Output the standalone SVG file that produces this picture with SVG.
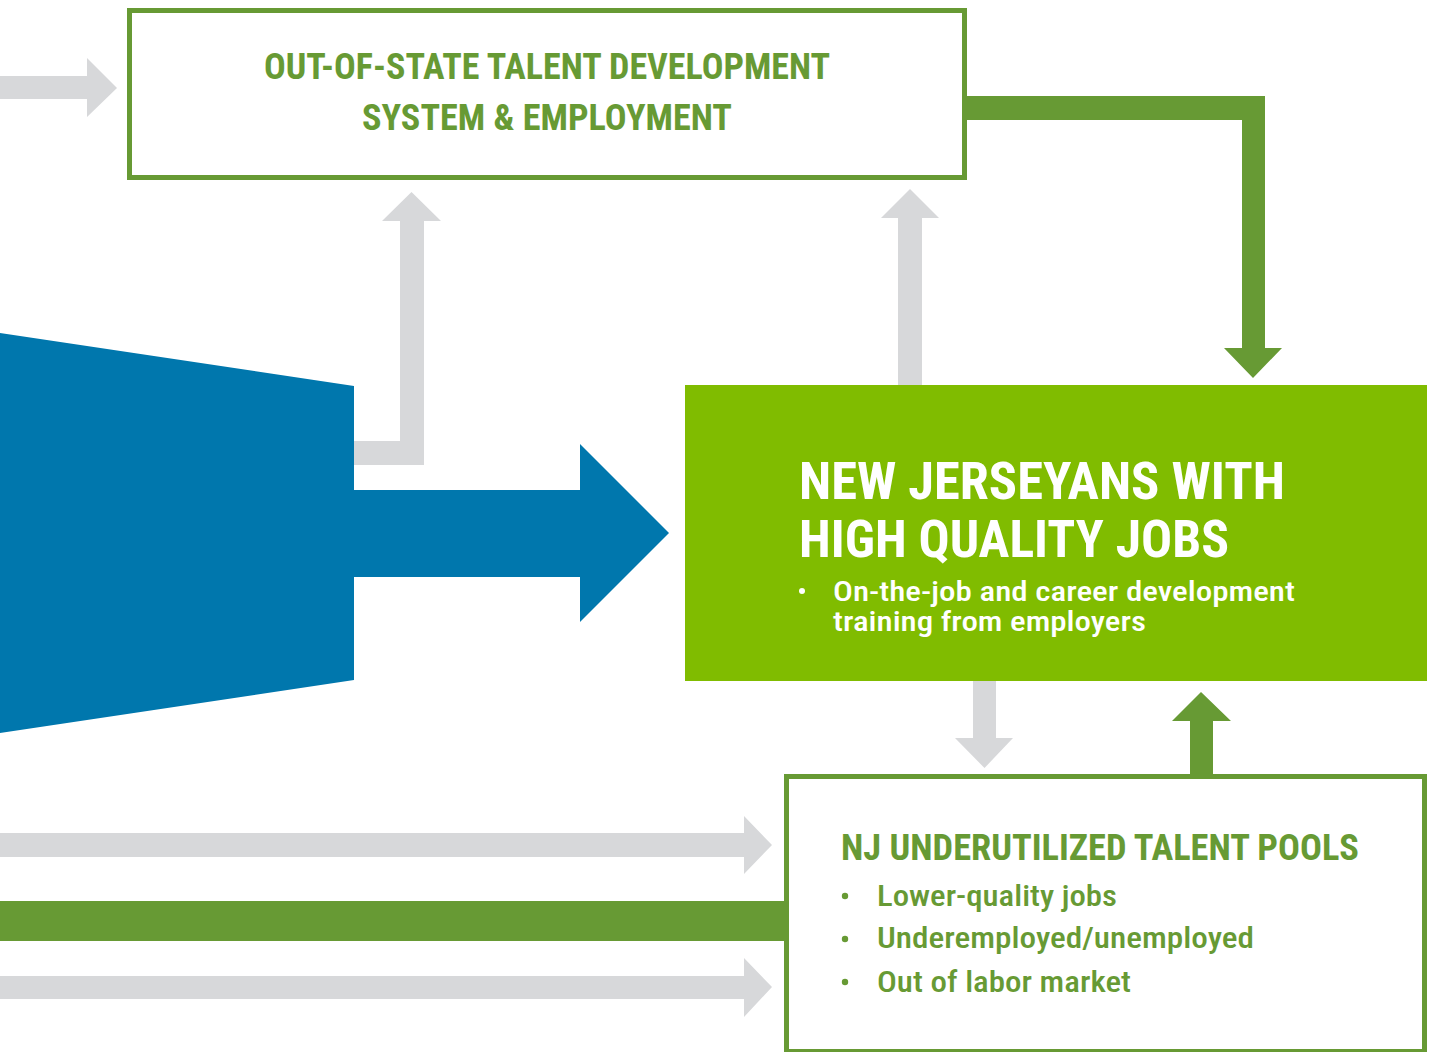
<svg xmlns="http://www.w3.org/2000/svg" width="1429" height="1052" viewBox="0 0 1429 1052">
<style>
.gray{fill:#D7D8DA}
.dg{fill:#679A34}
.blue{fill:#0077AD}
.box{fill:#FFFFFF;stroke:#679A34;stroke-width:5}
.t{font-family:"Roboto Condensed",Roboto,"Liberation Sans",sans-serif;font-stretch:condensed}
.title{font-weight:bold;fill:#679A34;font-size:36px}
.big{font-weight:bold;fill:#FFFFFF;font-size:52px}
.wb{fill:#FFFFFF;font-size:28px;font-weight:500}
.gb{fill:#679A34;font-size:29px;font-weight:500}
</style>
<rect width="1429" height="1052" fill="#FFFFFF"/>
<g id="connectors">
  <polygon class="gray" points="0,76 87,76 87,58 117,88 87,117 87,99 0,99"/>
  <polygon class="gray" points="354,441 400,441 400,221 382,221 411.5,192 441,221 424,221 424,465 354,465"/>
  <polygon class="gray" points="898,385 898,218 881,218 910,189 939,218 922,218 922,385"/>
  <polygon class="dg" points="965,96 1265,96 1265,348 1282,348 1253,378 1224,348 1242,348 1242,120 965,120"/>
  <polygon class="gray" points="973,681 996,681 996,738 1013,738 984.5,768 955,738 973,738"/>
  <polygon class="dg" points="1190,776 1190,721 1172,721 1201,692 1231,721 1213,721 1213,776"/>
  <polygon class="gray" points="0,833 744,833 744,816 772,845 744,874 744,857 0,857"/>
  <rect class="dg" x="0" y="901" width="788" height="40"/>
  <polygon class="gray" points="0,976 744,976 744,958 772,987 744,1017 744,999 0,999"/>
  <polygon class="blue" points="0,333 354,386 354,490 580,490 580,444 669,533 580,622 580,577 354,577 354,680 0,733"/>
</g>
<g id="node-outofstate">
  <rect class="box" x="129.5" y="10.5" width="835" height="167"/>
  <text class="t title" x="547" y="79" text-anchor="middle" textLength="566" lengthAdjust="spacingAndGlyphs">OUT-OF-STATE TALENT DEVELOPMENT</text>
  <text class="t title" x="547" y="130" text-anchor="middle" textLength="370" lengthAdjust="spacingAndGlyphs">SYSTEM &amp; EMPLOYMENT</text>
</g>
<g id="node-njjobs">
  <rect x="685" y="385" width="742" height="296" fill="#80BC00"/>
  <text class="t big" x="799" y="499" textLength="486" lengthAdjust="spacingAndGlyphs">NEW JERSEYANS WITH</text>
  <text class="t big" x="799" y="557" textLength="430" lengthAdjust="spacingAndGlyphs">HIGH QUALITY JOBS</text>
  <circle cx="802" cy="591" r="3" fill="#FFFFFF"/>
  <text class="t wb" x="833" y="601" textLength="462" lengthAdjust="spacingAndGlyphs">On-the-job and career development</text>
  <text class="t wb" x="833" y="631" textLength="313" lengthAdjust="spacingAndGlyphs">training from employers</text>
</g>
<g id="node-pools">
  <rect class="box" x="786.5" y="776.5" width="638" height="275"/>
  <text class="t title" x="841" y="860" textLength="518" lengthAdjust="spacingAndGlyphs">NJ UNDERUTILIZED TALENT POOLS</text>
  <circle cx="845" cy="896" r="3.2" fill="#679A34"/>
  <text class="t gb" x="877" y="906" textLength="240" lengthAdjust="spacingAndGlyphs">Lower-quality jobs</text>
  <circle cx="845" cy="939" r="3.2" fill="#679A34"/>
  <text class="t gb" x="877" y="948" textLength="377" lengthAdjust="spacingAndGlyphs">Underemployed/unemployed</text>
  <circle cx="845" cy="982" r="3.2" fill="#679A34"/>
  <text class="t gb" x="877" y="992" textLength="254" lengthAdjust="spacingAndGlyphs">Out of labor market</text>
</g>
</svg>
